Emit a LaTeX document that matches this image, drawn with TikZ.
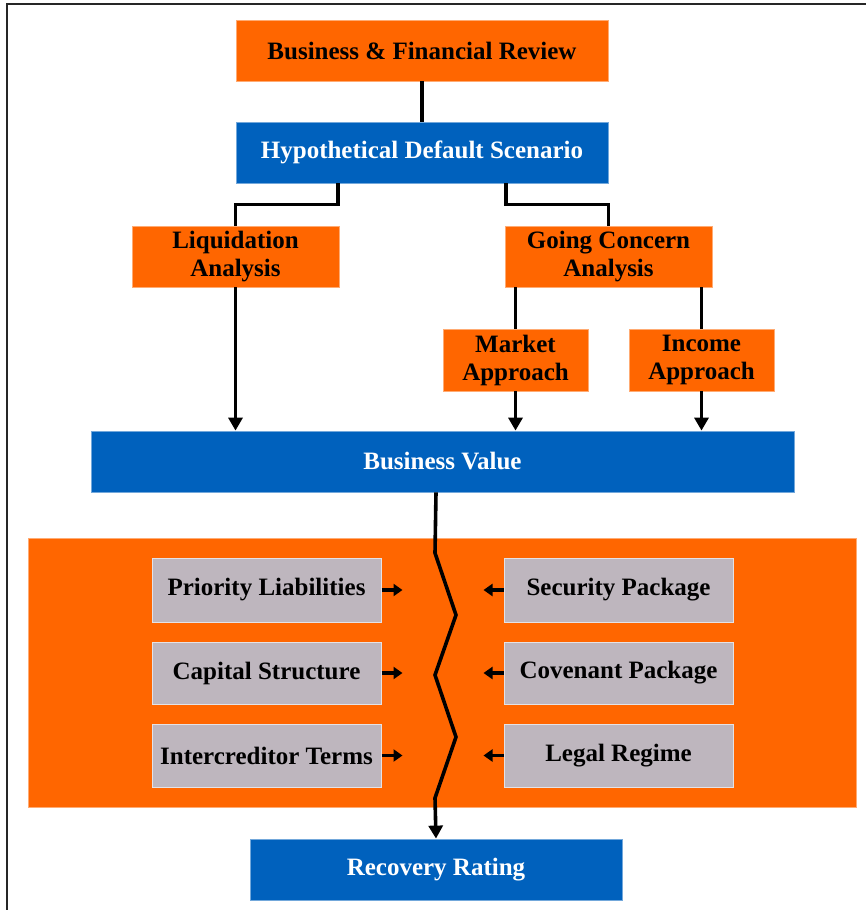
\documentclass[tikz,border=0pt]{standalone}
\usepackage{fontspec}
\setmainfont{Liberation Serif}
\usetikzlibrary{arrows.meta,calc}
\definecolor{orng}{RGB}{255,102,0}
\definecolor{blu}{RGB}{0,97,189}
\definecolor{gry}{RGB}{190,182,190}
\begin{document}
\begin{tikzpicture}[x=1pt,y=-1pt,
  box/.style={rectangle, inner sep=0pt, align=center, font=\fontsize{25}{28}\selectfont\bfseries},
  obox/.style={box, fill=orng, draw=orng!55!white, line width=0.8pt, text=black},
  bbox/.style={box, fill=blu, draw=blu!55!white, line width=0.8pt, text=white},
  gbox/.style={box, fill=gry, draw=gry!40!white, line width=1pt, text=black},
  conn/.style={line width=3.6pt, black},
  arr/.style={conn, -{Triangle[width=14pt,length=13pt]}},
  sarr/.style={line width=3.6pt, black, -{Triangle[width=12pt,length=9pt]}}]
\useasboundingbox (0,0) rectangle (865,910);
\fill[white] (0,0) rectangle (865,910);
\draw[line width=1.6pt, black!85] (7,912) -- (7,4) -- (867,4);

% panel
\node[fill=orng, draw=orng!55!white, line width=0.8pt, minimum width=828, minimum height=269, inner sep=0pt] (panel) at (442,672.5) {};

% top nodes
\node[obox, minimum width=372, minimum height=61] (bfr) at (422,50.5) {Business \& Financial Review};
\node[bbox, minimum width=372, minimum height=61] (hds) at (422,152.5) {Hypothetical Default Scenario};
\node[obox, minimum width=207, minimum height=61] (liq) at (235.5,256.5) {Liquidation\\Analysis};
\node[obox, minimum width=207, minimum height=61] (gc) at (608.5,256.5) {Going Concern\\Analysis};
\node[obox, minimum width=145, minimum height=62] (mkt) at (515.5,360) {Market\\Approach};
\node[obox, minimum width=145, minimum height=62] (inc) at (701.5,360) {Income\\Approach};
\node[bbox, minimum width=703, minimum height=61] (bv) at (442.5,461.5) {Business Value};

% gray boxes
\node[gbox, minimum width=229, minimum height=64] (pl) at (266.5,590) {Priority Liabilities};
\node[gbox, minimum width=229, minimum height=62] (cs) at (266.5,673) {Capital Structure};
\node[gbox, minimum width=229, minimum height=63] (it) at (266.5,755.5) {Intercreditor Terms};
\node[gbox, minimum width=229, minimum height=64] (sp) at (618.5,590) {Security Package};
\node[gbox, minimum width=229, minimum height=62] (cp) at (618.5,673) {Covenant Package};
\node[gbox, minimum width=229, minimum height=63] (lr) at (618.5,755.5) {Legal Regime};

\node[bbox, minimum width=372, minimum height=61] (rec) at (436,869.5) {Recovery Rating};

% connectors
\draw[conn] (bfr.south) -- (hds.north);
\draw[conn] ([xshift=-84pt]hds.south) |- ([yshift=21pt]liq.north) -- (liq.north);
\draw[conn] ([xshift=84pt]hds.south) |- ([yshift=21pt]gc.north) -- (gc.north);
\draw[conn] (gc.south -| mkt.north) -- (mkt.north);
\draw[conn] (gc.south -| inc.north) -- (inc.north);
\draw[arr] (liq.south) -- (liq.south |- bv.north);
\draw[arr] (mkt.south) -- (mkt.south |- bv.north);
\draw[arr] (inc.south) -- (inc.south |- bv.north);

% zigzag
\coordinate (z1) at (435,553);
\coordinate (z2) at (456,615);
\coordinate (z3) at (435,675);
\coordinate (z4) at (456,737);
\coordinate (z5) at (435,798);
\draw[arr, line join=miter] (rec.north |- bv.south) -- (z1) -- (z2) -- (z3) -- (z4) -- (z5) -- (rec.north);

% small arrows
\draw[sarr] (pl.east) -- ([xshift=21pt]pl.east);
\draw[sarr] (cs.east) -- ([xshift=21pt]cs.east);
\draw[sarr] (it.east) -- ([xshift=21pt]it.east);
\draw[sarr] (sp.west) -- ([xshift=-20pt]sp.west);
\draw[sarr] (cp.west) -- ([xshift=-20pt]cp.west);
\draw[sarr] (lr.west) -- ([xshift=-20pt]lr.west);
\end{tikzpicture}
\end{document}
